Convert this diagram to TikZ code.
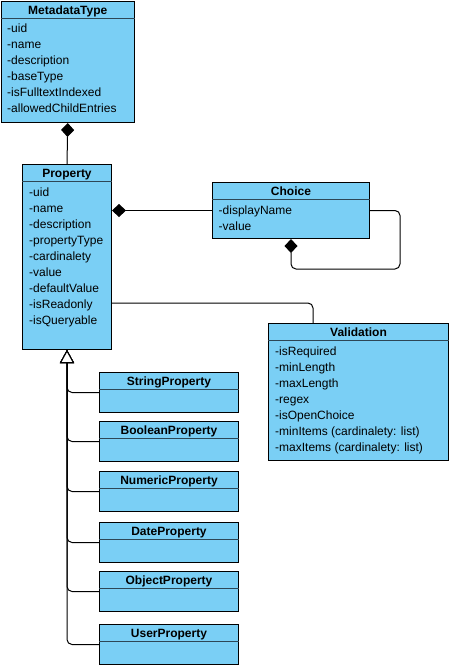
\documentclass[tikz,border=0pt]{standalone}
\usepackage{fontspec}
\setmainfont{Liberation Sans}
\usetikzlibrary{arrows.meta}
\definecolor{umlFill}{RGB}{122,207,245}
\definecolor{umlRule}{RGB}{45,70,85}

\begin{document}
\begin{tikzpicture}[
  x=1pt, y=-1pt,
  font=\fontsize{12}{14}\selectfont,
  cls/.style={draw=black, fill=umlFill, line width=1pt, anchor=north west, inner sep=0pt},
  rule/.style={draw=umlRule, line width=0.9pt},
  ttl/.style={anchor=base, inner sep=0pt, font=\fontsize{12}{14}\selectfont\bfseries},
  attr/.style={anchor=base west, inner sep=0pt},
  link/.style={draw=black, line width=1pt, rounded corners=5pt},
  comp/.style={link, {Diamond[length=14pt, width=13pt]}-},
  inh/.style={link, -{Triangle[open, length=13pt, width=14pt, fill=white]}}
]
\useasboundingbox (0,0) rectangle (449,665);
% classes
\node[cls, minimum width=133.5pt, minimum height=121.5pt] (meta) at (0.5,0.5) {};
\node[cls, minimum width=89pt, minimum height=185pt] (prop) at (22,164) {};
\node[cls, minimum width=157pt, minimum height=56pt] (choice) at (212,182) {};
\node[cls, minimum width=180pt, minimum height=137pt] (valid) at (268,323) {};
\node[cls, minimum width=139pt, minimum height=40pt] (strp) at (99,372) {};
\node[cls, minimum width=139pt, minimum height=40pt] (boolp) at (99,421) {};
\node[cls, minimum width=139pt, minimum height=40pt] (nump) at (99,471) {};
\node[cls, minimum width=139pt, minimum height=40pt] (datep) at (99,522) {};
\node[cls, minimum width=139pt, minimum height=40pt] (objp) at (99,571) {};
\node[cls, minimum width=139pt, minimum height=40pt] (userp) at (99,624) {};
% header rules and titles
\foreach \c/\t in {meta/MetadataType, prop/Property, choice/Choice, valid/Validation,
  strp/StringProperty, boolp/BooleanProperty, nump/NumericProperty,
  datep/DateProperty, objp/ObjectProperty, userp/UserProperty} {
  \draw[rule] ([yshift=-17.5pt]\c.north west) -- ([yshift=-17.5pt]\c.north east);
  \node[ttl] (\c-t) at ([yshift=-13.5pt]\c.north) {\t};
}
% attributes
\foreach \a [count=\i] in {-uid, -name, -description, -baseType, -isFulltextIndexed, -allowedChildEntries}
  \node[attr] (meta-a\i) at ([xshift=6.5pt, yshift={-32pt-16pt*(\i-1)}]meta.north west) {\a};
\foreach \a [count=\i] in {-uid, -name, -description, -propertyType, -cardinalety, -value, -defaultValue, -isReadonly, -isQueryable}
  \node[attr] (prop-a\i) at ([xshift=7pt, yshift={-32pt-16pt*(\i-1)}]prop.north west) {\a};
\foreach \a [count=\i] in {-displayName, -value}
  \node[attr] (choice-a\i) at ([xshift=6.5pt, yshift={-32.5pt-16pt*(\i-1)}]choice.north west) {\a};
\foreach \a [count=\i] in {-isRequired, -minLength, -maxLength, -regex, -isOpenChoice, {-minItems (cardinalety: list)}, {-maxItems (cardinalety: list)}}
  \node[attr] (valid-a\i) at ([xshift=7pt, yshift={-32pt-16pt*(\i-1)}]valid.north west) {\a};
% connectors
\draw[comp] (meta.south) -- (prop.north);
\draw[comp] (prop.east |- choice.west) -- (choice.west);
\draw[comp] (choice.south) -- ++(0,30) -| ([xshift=30pt]choice.east) -- (choice.east);
\draw[link] (prop.east |- 0,303) -| ([xshift=45pt]valid.north west);
\foreach \s in {strp, boolp, nump, datep, objp, userp}
  \draw[inh] (\s.west) -| (prop.south);
\end{tikzpicture}
\end{document}
